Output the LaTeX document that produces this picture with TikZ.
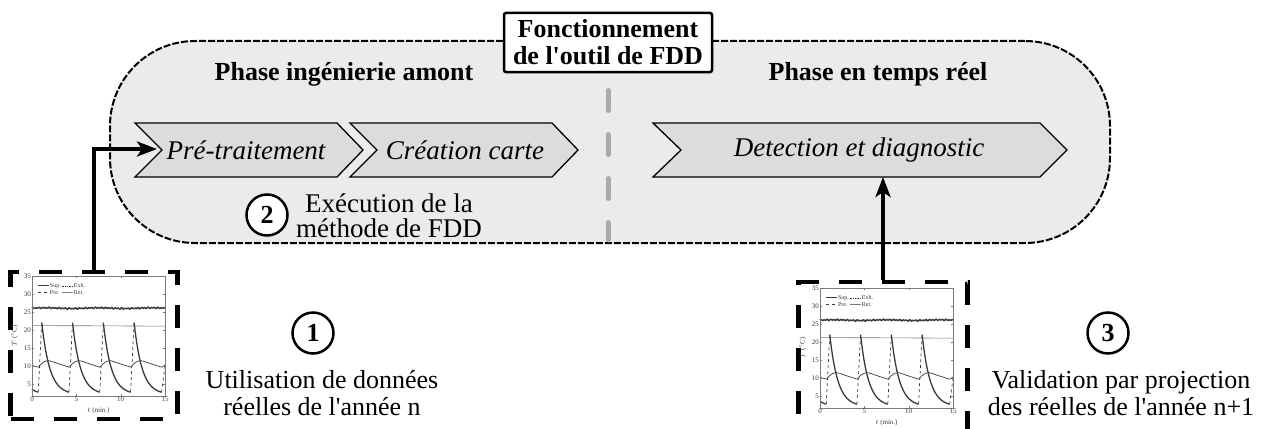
\documentclass[tikz,border=0pt]{standalone}
\usepackage{fontspec}
\setmainfont{Liberation Serif}[Ligatures=TeXOff]
\usetikzlibrary{arrows.meta}
\definecolor{boxfill}{HTML}{EBEBEB}
\definecolor{chevfill}{HTML}{DCDCDC}
\definecolor{divgray}{HTML}{AAAAAA}
\definecolor{plotgray}{HTML}{7A7A7A}
\definecolor{curvegray}{HTML}{3A3A3A}
\tikzset{
  mainbox/.style={draw, line width=2pt, dash pattern=on 7pt off 2pt, fill=boxfill, rounded corners=85pt, inner sep=0pt},
  titlebox/.style={draw, line width=2.5pt, fill=white, rounded corners=2pt, align=center, inner sep=0pt,
    minimum width=208pt, minimum height=59pt, font=\fontsize{26}{27}\selectfont\bfseries},
  chev/.style={draw, line width=1.3pt, fill=chevfill, line join=miter},
  chevtext/.style={font=\fontsize{27}{27}\selectfont\itshape, inner sep=0pt},
  phase/.style={font=\fontsize{26}{27}\selectfont\bfseries, inner sep=0pt},
  body/.style={font=\fontsize{27}{25}\selectfont, align=center, inner sep=0pt},
  bodysm/.style={font=\fontsize{26}{27}\selectfont, align=center, inner sep=0pt},
  numcirc/.style={circle, draw, line width=2.5pt, fill=white, minimum size=41pt, inner sep=0pt, font=\fontsize{26}{26}\selectfont\bfseries},
  plotbox/.style={draw, line width=4.5pt, dash pattern=on 23pt off 20pt, inner sep=0pt},
  divline/.style={divgray, line width=5pt, line cap=round, dash pattern=on 20pt off 24pt},
  bigarrow/.style={line width=4pt, -{Stealth[length=20pt,width=15pt,inset=5pt]}},
  ticklab/.style={font=\fontsize{7}{7}\selectfont, text=curvegray, inner sep=1pt},
  leglab/.style={font=\fontsize{6}{6}\selectfont, text=curvegray, inner sep=0.5pt, anchor=west},
  tplot/.pic={
    \begin{scope}[x=8.87pt, y=3.6pt, yshift=-5.76pt]
      % Sup. noisy line
      \draw[curvegray, line width=1.5pt] plot[domain=0:15, samples=300]
        (\x, {26+0.1*sin(\x*60)+0.12*sin(\x*970)+0.08*sin(\x*613)});
      % Ret. thin line
      \draw[plotgray, line width=0.6pt] (0,21.15) -- (7,21.1) -- (15,21.0);
      % wave around 10
      \draw[curvegray, line width=0.7pt] (0,10.1) -- (0.75,9.6);
      \foreach \k in {0,1,2,3} {
        \pgfmathsetmacro\m{0.75+3.47*\k}
        \draw[curvegray, line width=0.7pt] plot[smooth, tension=0.6] coordinates
          {(\m,9.6) ({\m+0.3},10.5) ({\m+0.6},11.05) ({\m+1.15},11.4) ({\m+2.3},10.5) ({\m+3.47},9.6)};
      }
      \draw[curvegray, line width=0.7pt] (14.63,9.6) -- (15,10.2);
      % Pre. sawtooth
      \draw[curvegray, line width=1.3pt] plot[domain=0:0.7, samples=10] (\x, {2+20*exp(-(\x+2.37)/0.9)});
      \foreach \k in {0,1,2,3} {
        \pgfmathsetmacro\tp{1.1+3.47*\k}
        \pgfmathsetmacro\te{\tp+3.07}
        \pgfmathsetmacro\ts{\tp-0.4}
        \draw[curvegray, line width=0.7pt, dashed] (\ts,2.66) -- (\tp,22);
        \draw[curvegray, line width=1.3pt] plot[domain=\tp:\te, samples=40] (\x, {2+20*exp(-(\x-\tp)/0.9)});
      }
      \draw[curvegray, line width=0.7pt, dashed] (14.6,2.6) -- (15,10);
      % axes
      \draw[plotgray, line width=0.5pt] (0,1.6) rectangle (15,35);
      \foreach \t in {0,5,10,15} {
        \draw[plotgray, line width=0.4pt] (\t,1.6) -- ++(0,0.6) (\t,35) -- ++(0,-0.6);
        \node[ticklab, anchor=north] at (\t,1.6) {\t};
      }
      \foreach \v in {5,10,...,35} {
        \draw[plotgray, line width=0.4pt] (0,\v) -- ++(0.2,0) (15,\v) -- ++(-0.2,0);
        \node[ticklab, anchor=east] at (0,\v) {\v};
      }
      \node[ticklab, anchor=north] at (7.5,-1.4) {$t$ (min.)};
      \node[ticklab, rotate=90] at (-1.95,18.3) {$T$ ($^\circ$C)};
      % legend
      \draw[curvegray, line width=0.7pt] (0.7,32.2) -- (1.9,32.2);
      \node[leglab] at (1.95,32.2) {Sup.};
      \draw[curvegray, line width=0.5pt, dash pattern=on 1pt off 0.7pt] (3.35,32.2) -- (4.6,32.2);
      \node[leglab] at (4.65,32.2) {Exh.};
      \draw[curvegray, line width=0.6pt, dashed] (0.7,30.3) -- (1.9,30.3);
      \node[leglab] at (1.95,30.3) {Pre.};
      \draw[plotgray, line width=0.4pt] (3.35,30.3) -- (4.6,30.3);
      \node[leglab] at (4.65,30.3) {Ret.};
    \end{scope}
  }
}
\begin{document}
\begin{tikzpicture}[x=1pt, y=-1pt]
  \useasboundingbox (0,0) rectangle (1265,428);
  \clip (0,0) rectangle (1265,428);

  % main rounded box
  \node[mainbox, minimum width=1000pt, minimum height=202pt] (main) at (610,142) {};

  % divider
  \coordinate (divtop) at (608,90.5);
  \coordinate (divbot) at (608,240);
  \draw[divline] (divtop) -- (divbot);

  % title
  \node[titlebox] (title) at (608,42.5) {Fonctionnement\\de l\char"0027 outil de FDD};

  % phase labels
  \node[phase] (ph1) at (344,74) {Phase ingénierie amont};
  \node[phase] (ph2) at (878,74) {Phase en temps réel};

  % chevrons
  \draw[chev] (135,123) -- (337,123) -- (363,150) -- (337,177) -- (135,177) -- (162,150) -- cycle;
  \draw[chev] (350,123) -- (552,123) -- (578,150) -- (552,177) -- (350,177) -- (377,150) -- cycle;
  \draw[chev] (653,123) -- (1040,123) -- (1067,150) -- (1040,177) -- (653,177) -- (681,150) -- cycle;
  \node[chevtext] (ch1) at (246,150) {Pré-traitement};
  \node[chevtext] (ch2) at (465,150) {Création carte};
  \node[chevtext] (ch3) at (859,150) {Detection et diagnostic};
  \coordinate (ch1in) at (157,149);
  \coordinate (ch3in) at (883,177);

  % step 2
  \node[numcirc] (n2) at (267,215) {2};
  \node[body, anchor=base] (t2) at (389,237) {Exécution de la\\méthode de FDD};

  % plot boxes
  \node[plotbox, minimum width=167pt, minimum height=147pt] (lbox) at (94,345.5) {};
  \node[plotbox, minimum width=169pt, minimum height=155pt] (rbox) at (883,359.5) {};
  \pic at (32,396) {tplot};
  \pic at (820,408) {tplot};

  % arrows
  \draw[bigarrow] (lbox.north) |- (ch1in);
  \draw[bigarrow] (rbox.north) -- (ch3in);

  % step 1 and 3
  \node[numcirc] (n1) at (313,333) {1};
  \node[bodysm, anchor=base] (t1) at (322,415) {Utilisation de données\\réelles de l\char"0027 année n};
  \node[numcirc] (n3) at (1108,333) {3};
  \node[bodysm, anchor=base] (t3) at (1121,415) {Validation par projection\\des réelles de l\char"0027 année n+1};
\end{tikzpicture}
\end{document}
